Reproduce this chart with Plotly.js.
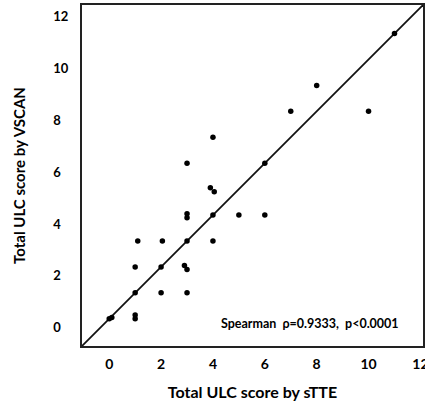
<!DOCTYPE html>
<html>
<head>
<meta charset="utf-8">
<script src="https://cdn.plot.ly/plotly-3.0.1.min.js"></script>
<style>html,body{margin:0;padding:0;background:#fff;}#chart{width:425px;height:403px;}</style>
</head>
<body>
<div id="chart"></div>
<script>
// Total ULC score by sTTE (x) vs by VSCAN (y)
var stteScores  = [0, 0.1, 1, 1, 1, 2, 3, 1, 2, 3, 2.9, 1.1, 2.05, 3, 4, 3, 3, 4, 5, 6, 3.9, 4.05, 3, 4, 6, 7, 8, 10, 11];
var vscanScores = [0, 0.05, 0, 0.15, 1, 1, 1, 2, 2, 1.9, 2.05, 3, 3, 3, 3, 4.05, 3.9, 4, 4, 4, 5.05, 4.9, 6, 7, 6, 8, 9, 8, 11];
var tickVals = [0, 2, 4, 6, 8, 10, 12];
var xTickText = ["0", "2", "4", "6", "8", "10", "12"];
var yTickText = ["0\u2007", "2\u2007", "4\u2007", "6\u2007", "8\u2007", "10", "12"];
var axisRange = [-1.05, 12.1];
var statText = "Spearman  \u03c1=0.9333,  p<0.0001";

var font = "Lato, 'Open Sans', sans-serif";

var traces = [
  {
    x: axisRange, y: axisRange, mode: "lines", type: "scatter",
    line: {color: "#111", width: 1.8}, hoverinfo: "skip", showlegend: false
  },
  {
    x: stteScores, y: vscanScores, mode: "markers", type: "scatter",
    marker: {color: "#000", size: 5.5}, showlegend: false
  }
];

var layout = {
  width: 425, height: 403,
  margin: {l: 82, r: 2, t: 5, b: 57},
  paper_bgcolor: "#fff", plot_bgcolor: "#fff",
  font: {family: font, color: "#000"},
  xaxis: {
    range: axisRange, tickvals: tickVals, ticktext: xTickText,
    showgrid: false, zeroline: false, showline: true, mirror: true,
    linecolor: "#222", linewidth: 2, ticks: "", ticklabeloverflow: "allow",
    ticklabelstandoff: 4,
    tickfont: {family: font, size: 14, weight: "bold", color: "#000"},
    title: {text: "Total ULC score by sTTE", font: {family: font, size: 16, weight: "bold", color: "#000"}, standoff: 16},
    automargin: false
  },
  yaxis: {
    range: axisRange, tickvals: tickVals, ticktext: yTickText,
    showgrid: false, zeroline: false, showline: true, mirror: true,
    linecolor: "#222", linewidth: 2, ticks: "", ticklabeloverflow: "allow",
    ticklabelstandoff: 9, ticklabelshift: 9,
    tickfont: {family: font, size: 13, weight: "bold", color: "#000"},
    title: {text: "Total ULC score by VSCAN", font: {family: font, size: 15, weight: "bold", color: "#000"}, standoff: 24},
    automargin: false
  },
  annotations: [{
    text: statText, xref: "paper", yref: "paper", x: 0.935, y: 0.067,
    xanchor: "right", yanchor: "middle", showarrow: false,
    font: {family: font, size: 12.5, weight: "bold", color: "#000"}
  }]
};

Plotly.newPlot("chart", traces, layout, {displayModeBar: false, staticPlot: true});
</script>
</body>
</html>
